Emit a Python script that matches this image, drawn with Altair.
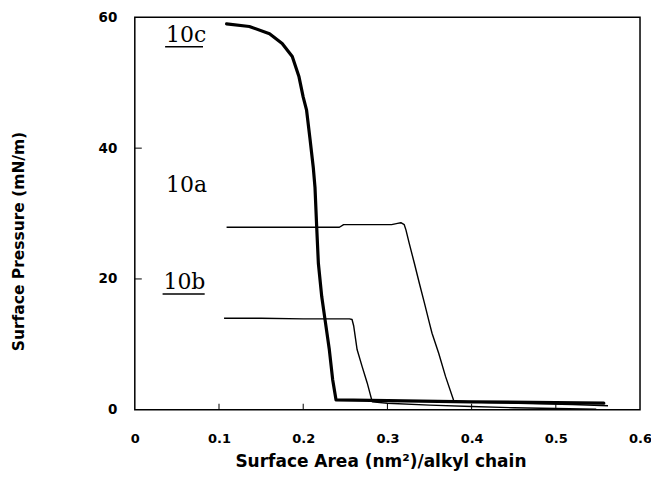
import altair as alt
import pandas as pd

# ---- data ----
x_10a = [0.109, 0.15, 0.20, 0.243, 0.248, 0.28, 0.305, 0.312, 0.316, 0.320, 0.322, 0.326, 0.332,
         0.338, 0.344, 0.350, 0.353, 0.361, 0.369, 0.379, 0.42, 0.48, 0.52, 0.562]
y_10a = [27.9, 27.9, 27.9, 27.9, 28.3, 28.3, 28.3, 28.5, 28.6, 28.3, 27.5, 25.4, 22.4,
         19.3, 16.3, 13.2, 11.7, 8.6, 5.1, 1.3, 1.1, 0.9, 0.8, 0.6]

x_10b = [0.106, 0.15, 0.20, 0.245, 0.255, 0.258, 0.260, 0.264, 0.270, 0.276, 0.282, 0.30, 0.35,
         0.40, 0.45, 0.50, 0.548]
y_10b = [14.0, 14.0, 13.9, 13.9, 13.9, 13.8, 12.8, 9.2, 6.6, 4.1, 1.2, 1.0, 0.7,
         0.5, 0.3, 0.2, 0.1]

x_10c = [0.109, 0.136, 0.160, 0.175, 0.187, 0.195, 0.200, 0.204, 0.208, 0.212, 0.214, 0.216,
         0.218, 0.222, 0.226, 0.231, 0.235, 0.239, 0.30, 0.40, 0.50, 0.557]
y_10c = [59.0, 58.6, 57.5, 56.0, 54.0, 50.9, 47.8, 45.8, 41.5, 37.0, 34.0, 28.0,
         22.4, 17.3, 13.7, 9.2, 4.6, 1.5, 1.4, 1.2, 1.1, 1.0]

x_ticks = [0, 0.1, 0.2, 0.3, 0.4, 0.5, 0.6]
y_ticks = [0, 20, 40, 60]
x_inner_ticks = [0.1, 0.2, 0.3, 0.4, 0.5]
y_inner_ticks = [20, 40]

label_text = ["10c", "10a", "10b"]
label_x = [0.037, 0.037, 0.034]
label_y = [56.3, 33.3, 18.5]
underline_x = [0.036, 0.033]
underline_x2 = [0.081, 0.083]
underline_y = [55.5, 17.7]

# ---- build tables ----
def series_df(name, xs, ys):
    return pd.DataFrame({"series": name, "area": xs, "pressure": ys, "order": list(range(len(xs)))})

thin_df = pd.concat([series_df("10a", x_10a, y_10a), series_df("10b", x_10b, y_10b)])
thick_df = series_df("10c", x_10c, y_10c)

labels_df = pd.DataFrame({"text": label_text, "area": label_x, "pressure": label_y})
under_df = pd.DataFrame({"area": underline_x, "area2": underline_x2, "pressure": underline_y})
xt_df = pd.DataFrame({"area": x_inner_ticks})
yt_df = pd.DataFrame({"pressure": y_inner_ticks})

xscale = alt.Scale(domain=[0, 0.6], nice=False, zero=False)
yscale = alt.Scale(domain=[0, 60], nice=False)

x_axis = alt.Axis(values=x_ticks, format="~g", title="Surface Area (nm²)/alkyl chain",
                  domain=False, ticks=False, grid=False, labelPadding=23,
                  labelFont="DejaVu Sans", labelFontWeight="bold", labelFontSize=13,
                  labelColor="black", labelFlush=False,
                  titleFont="DejaVu Sans", titleFontWeight="bold", titleFontSize=17,
                  titleColor="black", titleX=246, titleY=52, titleBaseline="middle",
                  titleLimit=600)
y_axis = alt.Axis(values=y_ticks, title="Surface Pressure (mN/m)",
                  domain=False, ticks=False, grid=False, labelPadding=18,
                  labelFont="DejaVu Sans", labelFontWeight="bold", labelFontSize=13.5,
                  labelColor="black", labelFlush=False,
                  titleFont="DejaVu Sans", titleFontWeight="bold", titleFontSize=15.5,
                  titleColor="black", titleX=-116, titleY=224, titleBaseline="middle",
                  titleLimit=600)

X = alt.X("area:Q", scale=xscale, axis=x_axis, title="Surface Area (nm²)/alkyl chain")
Y = alt.Y("pressure:Q", scale=yscale, axis=y_axis, title="Surface Pressure (mN/m)")

thin = alt.Chart(thin_df).mark_line(color="black", strokeWidth=1.4, strokeJoin="round").encode(
    x=X, y=Y, detail="series:N", order="order:Q")
thick = alt.Chart(thick_df).mark_line(color="black", strokeWidth=3.2, strokeJoin="round",
                                      strokeCap="round").encode(
    x=X, y=Y, order="order:Q")

xticks = alt.Chart(xt_df).mark_rule(color="black", strokeWidth=1).encode(
    x=X, y=alt.value(393), y2=alt.value(387))
yticks = alt.Chart(yt_df).mark_rule(color="black", strokeWidth=1).encode(
    y=Y, x=alt.value(0), x2=alt.value(7))

texts = alt.Chart(labels_df).mark_text(align="left", baseline="alphabetic", font="DejaVu Serif",
                                       fontSize=22, color="black").encode(
    x=X, y=Y, text="text:N")
unders = alt.Chart(under_df).mark_rule(color="black", strokeWidth=1.5).encode(
    x=X, x2="area2:Q", y=Y)

chart = alt.layer(thin, thick, xticks, yticks, texts, unders).properties(
    width=506, height=393,
    autosize=alt.AutoSizeParams(type="none"),
    padding={"left": 127, "top": 9, "right": 11, "bottom": 67},
).configure_view(stroke="black", strokeWidth=1.5)

chart.save("out.html", embed_options={"renderer": "svg", "actions": False})
